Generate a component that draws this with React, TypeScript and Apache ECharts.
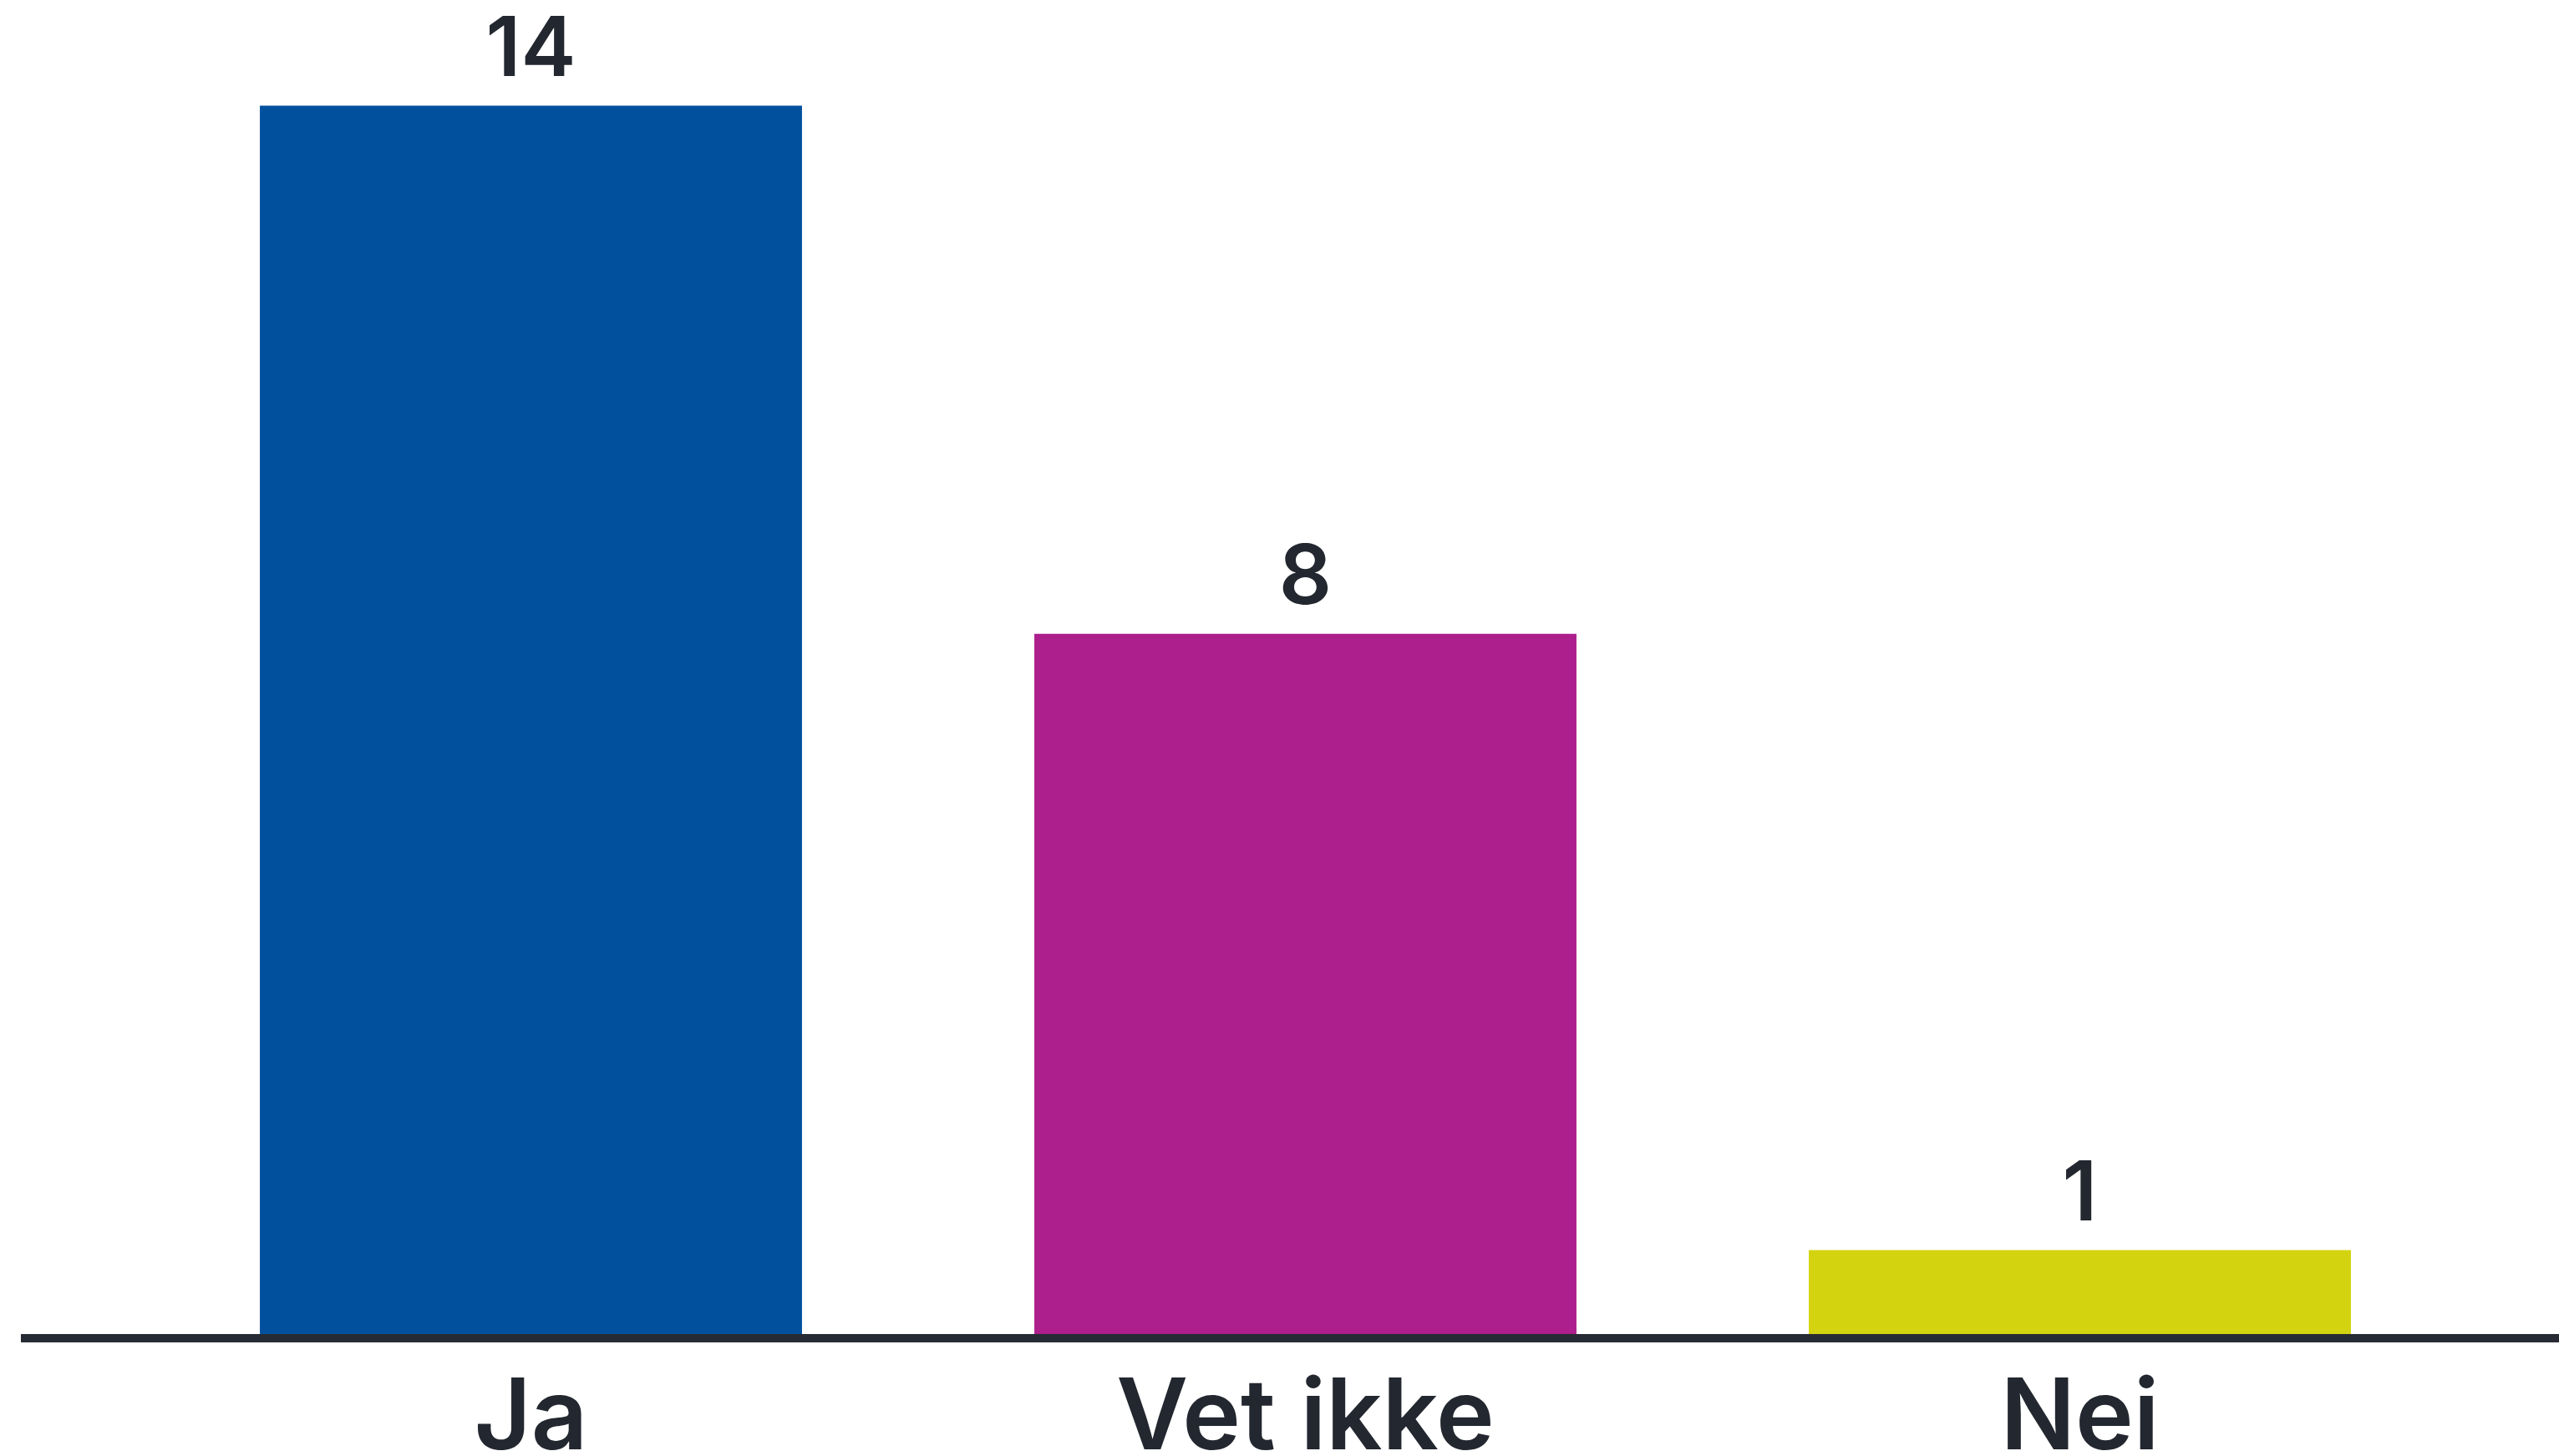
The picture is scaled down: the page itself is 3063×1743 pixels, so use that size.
import React, { useEffect, useRef } from "react";
import * as echarts from "echarts";

const categories = ["Ja", "Vet ikke", "Nei"];
const values = [14, 8, 1];
const barColors = ["#00509E", "#AD1F8C", "#D4D30F"];

export default function App() {
  const ref = useRef<HTMLDivElement>(null);
  useEffect(() => {
    if (!ref.current) return;
    const chart = echarts.init(ref.current, null, { renderer: "svg" });
    chart.setOption({
      animation: false,
      backgroundColor: "#ffffff",
      grid: {
        left: 172,
        right: 110,
        top: 21,
        bottom: 141,
        containLabel: false,
        outerBoundsMode: "none",
      },
      xAxis: {
        type: "category",
        data: categories,
        axisLine: { show: false },
        axisTick: { show: false },
        axisLabel: {
          color: "#23272F",
          fontFamily: "Inter",
          fontWeight: 600,
          fontSize: 118,
          lineHeight: 90,
          margin: 45,
        },
      },
      yAxis: {
        type: "value",
        min: 0,
        max: 15,
        show: false,
        splitLine: { show: false },
      },
      graphic: [
        {
          type: "line",
          shape: { x1: 25, y1: 1602, x2: 3063, y2: 1602 },
          style: { stroke: "#262B33", lineWidth: 10 },
          z: 100,
        },
      ],
      series: [
        {
          type: "bar",
          barWidth: "70%",
          data: values.map((v, i) => ({ value: v, itemStyle: { color: barColors[i] } })),
          label: {
            show: true,
            position: "top",
            distance: 22,
            color: "#23272F",
            fontFamily: "Inter",
            fontWeight: 600,
            fontSize: 99,
            lineHeight: 99,
          },
        },
      ],
    });
    return () => chart.dispose();
  }, []);
  return (
    <div
      ref={ref}
      style={{ position: "absolute", left: 0, top: 0, width: 3063, height: 1743 }}
    />
  );
}
